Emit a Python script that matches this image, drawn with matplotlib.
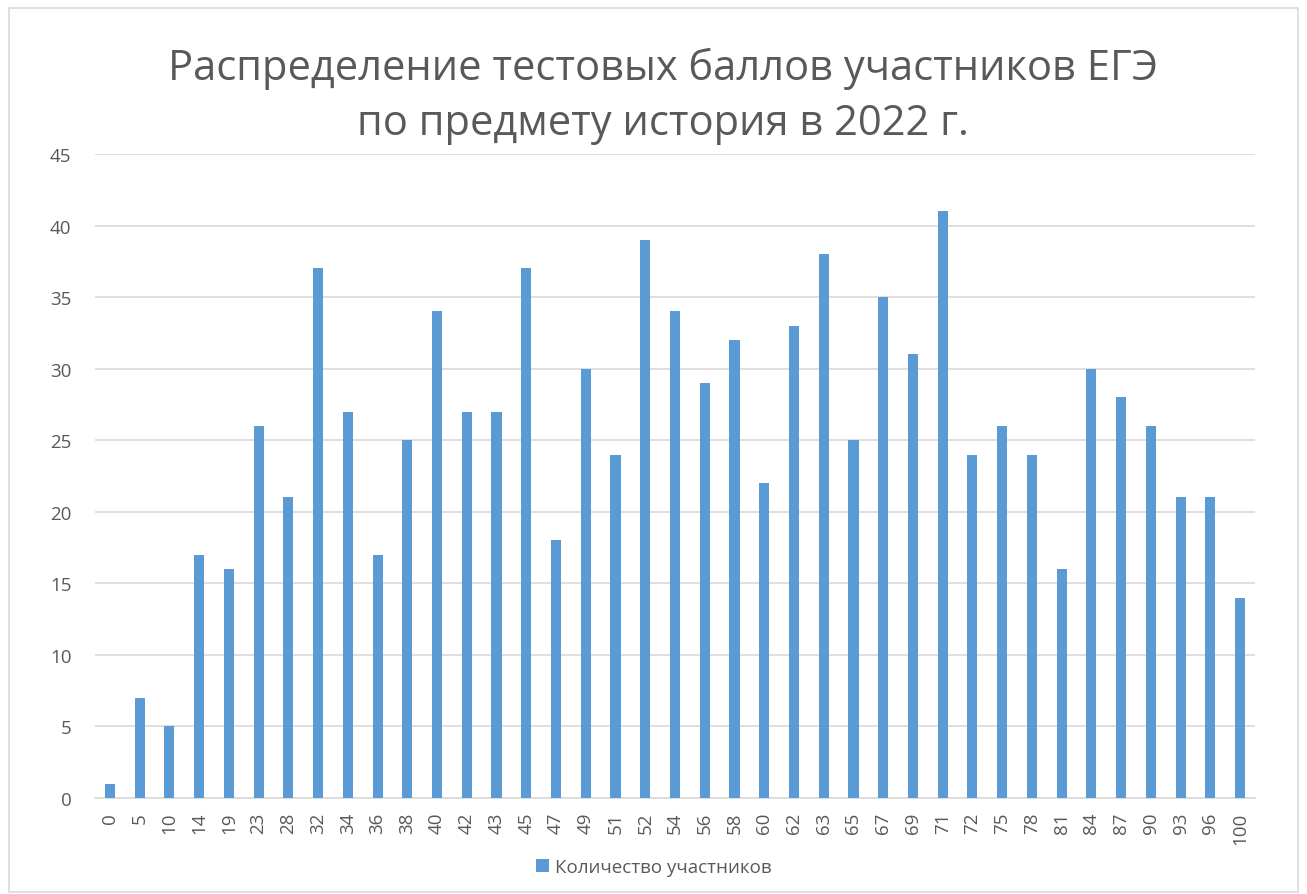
import matplotlib.pyplot as plt
from matplotlib.patches import Rectangle

scores = ["0", "5", "10", "14", "19", "23", "28", "32", "34", "36", "38", "40", "42",
          "43", "45", "47", "49", "51", "52", "54", "56", "58", "60", "62", "63", "65",
          "67", "69", "71", "72", "75", "78", "81", "84", "87", "90", "93", "96", "100"]
counts = [1, 7, 5, 17, 16, 26, 21, 37, 27, 17, 25, 34, 27,
          27, 37, 18, 30, 24, 39, 34, 29, 32, 22, 33, 38, 25,
          35, 31, 41, 24, 26, 24, 16, 30, 28, 26, 21, 21, 14]
yticks = [0, 5, 10, 15, 20, 25, 30, 35, 40, 45]

plt.rcParams['font.family'] = ['Open Sans', 'DejaVu Sans']
grey = '#595959'

fig = plt.figure(figsize=(13.07, 8.95), dpi=100)
fig.patches.append(Rectangle((9 / 1307, 0.002), 1 - 18 / 1307, 1 - 11 / 895,
                             transform=fig.transFigure, fill=False,
                             edgecolor='#d9d9d9', linewidth=1.2))

ax = fig.add_axes([95 / 1307, 1 - 799 / 895, 1160 / 1307, 644 / 895])
x = range(len(scores))
ax.bar(x, counts, width=0.34, color='#5b9bd5', label='Количество участников', zorder=3)

ax.set_xlim(-0.5, len(scores) - 0.5)
ax.set_ylim(0, 45)
ax.set_yticks(yticks)
ax.set_xticks(list(x))
ax.set_xticklabels(scores, rotation=90, fontsize=13.5, color=grey)
ax.tick_params(axis='y', labelsize=13.5, labelcolor=grey, length=0, pad=17)
ax.tick_params(axis='x', length=0, pad=10)
ax.grid(axis='y', color='#d9d9d9', linewidth=1.2, zorder=0)
for s in ['top', 'right', 'left']:
    ax.spines[s].set_visible(False)
ax.spines['bottom'].set_color('#d9d9d9')
ax.spines['bottom'].set_linewidth(1.2)

fig.text(0.507, 0.892, 'Распределение тестовых баллов участников ЕГЭ\nпо предмету история в 2022 г.',
         ha='center', va='center', fontsize=30, color=grey, linespacing=1.4)

fig.legend(loc='center', bbox_to_anchor=(0.5, 0.03), frameon=False, fontsize=13.5,
           labelcolor=grey, handlelength=0.7, handleheight=0.7, handletextpad=0.3)

fig.savefig('out.png', dpi=100)
